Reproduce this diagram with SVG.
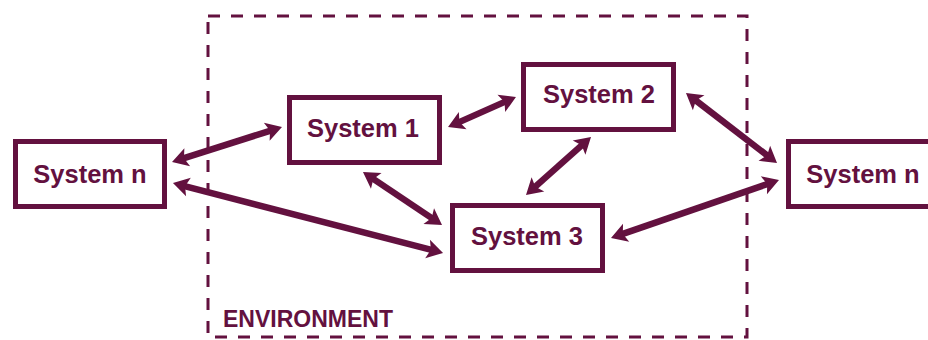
<svg xmlns="http://www.w3.org/2000/svg" width="928" height="340" viewBox="0 0 928 340">
  <style>
    .box { fill: #ffffff; stroke: #63113f; stroke-width: 5; }
    .lbl { font-family: "Liberation Sans", Arial, sans-serif; font-weight: bold; font-size: 25.5px; fill: #63113f; text-anchor: middle; }
    .env { font-family: "Liberation Sans", Arial, sans-serif; font-weight: bold; font-size: 23px; fill: #63113f; }
    .conn { stroke: #63113f; stroke-width: 6.5; fill: none; marker-start: url(#ah); marker-end: url(#ah); }
    .frame { fill: none; stroke: #63113f; stroke-width: 3; stroke-dasharray: 12 11; }
  </style>
  <defs>
    <marker id="ah" markerUnits="userSpaceOnUse" viewBox="-3 -11 18 22" markerWidth="18" markerHeight="22" refX="3" refY="0" orient="auto-start-reverse">
      <path d="M-2,-9.5 L14,0 L-2,9.5 L1.5,0 Z" fill="#63113f"/>
    </marker>
  </defs>
  <rect width="928" height="340" fill="#ffffff"/>
  <g id="environment">
    <rect class="frame" x="208" y="16" width="539" height="321"/>
    <text class="env" x="223" y="327">ENVIRONMENT</text>
  </g>
  <g id="connectors">
    <line class="conn" x1="182.5" y1="158.7" x2="271.5" y2="130.3"/>
    <line class="conn" x1="458.1" y1="122.6" x2="505.9" y2="101.4"/>
    <line class="conn" x1="582.8" y1="144.3" x2="534.2" y2="187.7"/>
    <line class="conn" x1="694.7" y1="99.7" x2="768.3" y2="156.3"/>
    <line class="conn" x1="621.4" y1="234.4" x2="768.6" y2="183.6"/>
    <line class="conn" x1="183.6" y1="185.8" x2="432.4" y2="250.2"/>
    <line class="conn" x1="372.1" y1="178.1" x2="432.9" y2="218.9"/>
  </g>
  <g id="system-n-left">
    <rect class="box" x="15.5" y="141.5" width="149" height="65"/>
    <text class="lbl" x="90" y="183">System n</text>
  </g>
  <g id="system-1">
    <rect class="box" x="289.5" y="97.5" width="150" height="65"/>
    <text class="lbl" x="363" y="137">System 1</text>
  </g>
  <g id="system-2">
    <rect class="box" x="523.5" y="64.5" width="150" height="65"/>
    <text class="lbl" x="599" y="103">System 2</text>
  </g>
  <g id="system-3">
    <rect class="box" x="452.5" y="205.5" width="150" height="65"/>
    <text class="lbl" x="527" y="245">System 3</text>
  </g>
  <g id="system-n-right">
    <rect class="box" x="788.5" y="141.5" width="149" height="65"/>
    <text class="lbl" x="863" y="183">System n</text>
  </g>
</svg>
